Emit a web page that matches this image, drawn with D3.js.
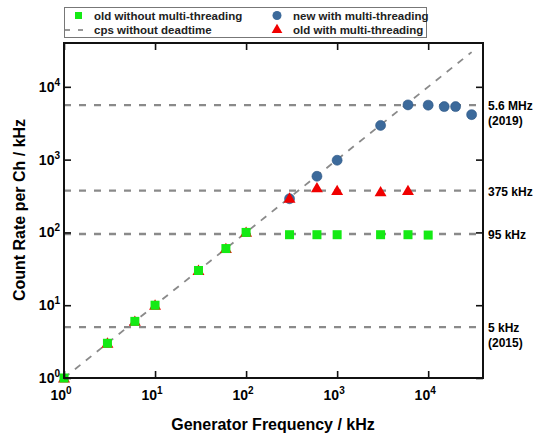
<!DOCTYPE html>
<html>
<head>
<meta charset="utf-8">
<script src="https://cdn.jsdelivr.net/npm/d3@7"></script>
<style>
  body { margin: 0; background: #fff; }
  svg { font-family: "Liberation Sans", Arial, sans-serif; font-weight: bold; }
</style>
</head>
<body>
<div id="chart"></div>
<script>
// data (kHz)
const oldNoMtX = [1, 3, 6, 10, 30, 60, 100, 300, 600, 1000, 3000, 6000, 10000];
const oldNoMtY = [1, 3, 6, 10, 30, 60, 100, 93, 93, 93, 93, 93, 92];
const oldMtX = [1, 3, 6, 10, 30, 60, 100, 300, 600, 1000, 3000, 6000];
const oldMtY = [1, 3, 6, 10, 30, 60, 100, 295, 410, 375, 360, 375];
const newMtX = [300, 600, 1000, 3000, 6000, 10000, 15000, 20000, 30000];
const newMtY = [290, 590, 980, 2950, 5650, 5600, 5350, 5350, 4150];
const limitValues = [5600, 375, 95, 5];
const limitLabels = [["5.6 MHz", "(2019)"], ["375 kHz"], ["95 kHz"], ["5 kHz", "(2015)"]];
const decades = [1, 10, 100, 1000, 10000];
const tickExp = ["0", "1", "2", "3", "4"];

const width = 534, height = 437;
const mLeft = 64, mRight = 483, mTop = 43, mBottom = 378;

const svg = d3.select("#chart").append("svg")
    .attr("width", width)
    .attr("height", height);

const x = d3.scaleLog().domain([1, 40000]).range([mLeft, mRight]);
const y = d3.scaleLog().domain([1, 40000]).range([mBottom, mTop]);

// reference lines
svg.selectAll(".limit")
    .data(limitValues)
    .enter().append("line")
    .attr("x1", x(1))
    .attr("x2", x(35000))
    .attr("y1", d => y(d))
    .attr("y2", d => y(d))
    .attr("stroke", "#8a8a8a")
    .attr("stroke-width", 2.4)
    .attr("stroke-dasharray", "7,8");

// cps without deadtime (y = x)
svg.append("line")
    .attr("x1", x(1)).attr("y1", y(1))
    .attr("x2", x(30000)).attr("y2", y(30000))
    .attr("stroke", "#8a8a8a")
    .attr("stroke-width", 1.8)
    .attr("stroke-dasharray", "7,7");

// markers: blue under red under green
svg.selectAll(".newmt")
    .data(newMtX)
    .enter().append("circle")
    .attr("cx", d => x(d))
    .attr("cy", (d, i) => y(newMtY[i]))
    .attr("r", 5)
    .attr("fill", "#3c6a9b")
    .attr("stroke", "#2c5584")
    .attr("stroke-width", 0.6);

const tri = d3.symbol().type(d3.symbolTriangle).size(62);
svg.selectAll(".oldmt")
    .data(oldMtX)
    .enter().append("path")
    .attr("d", tri)
    .attr("transform", (d, i) => `translate(${x(d)},${y(oldMtY[i]) + 1})`)
    .attr("fill", "#f00000");

svg.selectAll(".oldnomt")
    .data(oldNoMtX)
    .enter().append("rect")
    .attr("x", d => x(d) - 4.5)
    .attr("y", (d, i) => y(oldNoMtY[i]) - 4.5)
    .attr("width", 9)
    .attr("height", 9)
    .attr("fill", "#14ea14");

// frame
svg.append("rect")
    .attr("x", mLeft).attr("y", mTop)
    .attr("width", mRight - mLeft).attr("height", mBottom - mTop)
    .attr("fill", "none")
    .attr("stroke", "#111")
    .attr("stroke-width", 2);

// axes with inward ticks
const axes = [
    [d3.axisBottom(x), `translate(0,${mBottom})`],
    [d3.axisTop(x), `translate(0,${mTop})`],
    [d3.axisLeft(y), `translate(${mLeft},0)`],
    [d3.axisRight(y), `translate(${mRight},0)`]
];
axes.forEach(([ax, tr]) => {
    const g = svg.append("g")
        .attr("transform", tr)
        .call(ax.tickValues(decades).tickSize(-7).tickFormat(""));
    g.select(".domain").remove();
    g.selectAll(".tick line").attr("stroke", "#111").attr("stroke-width", 1.6);
});

// tick labels as 10^n
svg.selectAll(".xlab")
    .data(decades)
    .enter().append("text")
    .attr("x", d => x(d) - 3)
    .attr("y", mBottom + 22)
    .attr("text-anchor", "middle")
    .style("font-size", "14px")
    .text("10")
    .append("tspan")
    .attr("dy", -6)
    .style("font-size", "10px")
    .text((d, i) => tickExp[i]);

svg.selectAll(".ylab")
    .data(decades)
    .enter().append("text")
    .attr("x", mLeft - 4)
    .attr("y", d => y(d) + 5)
    .attr("text-anchor", "end")
    .style("font-size", "14px")
    .text("10")
    .append("tspan")
    .attr("dy", -6)
    .style("font-size", "10px")
    .text((d, i) => tickExp[i]);

// right side limit labels
limitValues.forEach((v, i) => {
    const t = svg.append("text")
        .attr("x", mRight + 5)
        .attr("y", y(v) + 5)
        .style("font-size", "12px");
    limitLabels[i].forEach((s, j) => {
        t.append("tspan")
            .attr("x", mRight + 5)
            .attr("dy", j === 0 ? 0 : 15)
            .text(s);
    });
});

// axis titles
svg.append("text")
    .attr("x", 273)
    .attr("y", 430)
    .attr("text-anchor", "middle")
    .style("font-size", "16px")
    .text("Generator Frequency / kHz");

svg.append("text")
    .attr("transform", `translate(25,210) rotate(-90)`)
    .attr("text-anchor", "middle")
    .style("font-size", "16px")
    .text("Count Rate per Ch / kHz");

// legend
const lg = svg.append("g");
lg.append("rect")
    .attr("x", 64.5).attr("y", 7.5)
    .attr("width", 362).attr("height", 30)
    .attr("fill", "#fff")
    .attr("stroke", "#777")
    .attr("stroke-width", 1);
lg.append("rect")
    .attr("x", 75).attr("y", 12).attr("width", 7).attr("height", 7)
    .attr("fill", "#14ea14");
lg.append("line")
    .attr("x1", 65).attr("x2", 89).attr("y1", 30).attr("y2", 30)
    .attr("stroke", "#777").attr("stroke-width", 1.3)
    .attr("stroke-dasharray", "5,8");
lg.append("circle")
    .attr("cx", 277).attr("cy", 15.5).attr("r", 4.5)
    .attr("fill", "#3c6a9b");
lg.append("path")
    .attr("d", d3.symbol().type(d3.symbolTriangle).size(50))
    .attr("transform", "translate(277,30)")
    .attr("fill", "#f00000");
const legendText = [
    ["old without multi-threading", 94, 19.5],
    ["cps without deadtime", 94, 34],
    ["new with multi-threading", 293, 19.5],
    ["old with multi-threading", 293, 34]
];
lg.selectAll(".lt")
    .data(legendText)
    .enter().append("text")
    .attr("x", d => d[1])
    .attr("y", d => d[2])
    .style("font-size", "11.5px")
    .attr("fill", "#222")
    .text(d => d[0]);
</script>
</body>
</html>
